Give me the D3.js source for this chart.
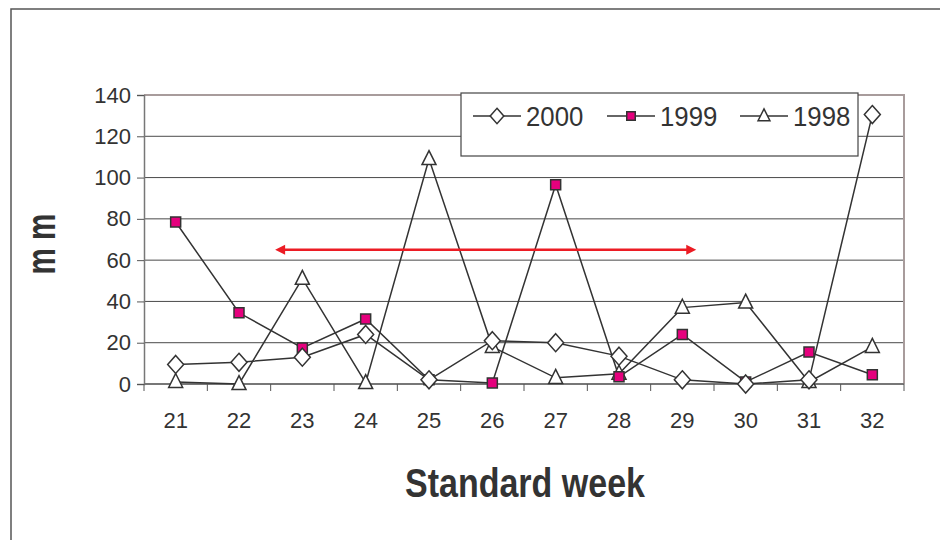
<!DOCTYPE html>
<html>
<head>
<meta charset="utf-8">
<script src="https://cdn.jsdelivr.net/npm/d3@7"></script>
<style>
  html, body { margin: 0; padding: 0; background: #fff; }
  svg { display: block; }
</style>
</head>
<body>
<svg id="chart" width="940" height="540"></svg>
<script>
// Weekly rainfall (mm) by standard week, three seasons
const weeks = [21, 22, 23, 24, 25, 26, 27, 28, 29, 30, 31, 32];
const rain2000 = [9.5, 10.5, 13, 24, 2, 21, 20, 13.5, 2, 0, 2, 130.5];
const rain1999 = [78.5, 34.5, 17.5, 31.5, 2, 0.5, 96.5, 3.5, 24, 1, 15.5, 4.5];
const rain1998 = [1, 0, 51, 0.5, 109, 18, 3, 5, 37, 39.5, 1, 18];
const yTicks = [0, 20, 40, 60, 80, 100, 120, 140];
const seriesNames = ["2000", "1999", "1998"];
// Double-headed arrow marking a span of weeks at a given rainfall level
const arrowSpan = [22.57, 29.22];
const arrowLevel = 65;

const FONT = "'Liberation Sans', Arial, sans-serif";
const TEXT_COLOR = "#333";

const svg = d3.select("#chart");
const plot = { left: 144, right: 904, top: 95, bottom: 384 };

const x = d3.scaleBand().domain(weeks).range([plot.left, plot.right]);
const xPos = d3.scaleLinear().domain([20.5, 32.5]).range([plot.left, plot.right]);
const y = d3.scaleLinear().domain([0, 140]).range([plot.bottom, plot.top]);

// outer chart frame
svg.append("path")
  .attr("d", "M11,545 L11,9 L945,9")
  .attr("fill", "none").attr("stroke", "#555").attr("stroke-width", 1.5);

// horizontal gridlines
svg.append("g").selectAll("line")
  .data(yTicks.filter(t => t > 0 && t < 140))
  .join("line")
  .attr("x1", plot.left).attr("x2", plot.right)
  .attr("y1", d => y(d)).attr("y2", d => y(d))
  .attr("stroke", "#4a4a4a").attr("stroke-width", 1);

// plot border (top and right)
svg.append("path")
  .attr("d", `M${plot.left},${y(140)} L${plot.right},${y(140)} L${plot.right},${plot.bottom}`)
  .attr("fill", "none").attr("stroke", "#a89c9c").attr("stroke-width", 2);

// y axis
const yAxis = svg.append("g")
  .attr("transform", `translate(${plot.left},0)`)
  .call(d3.axisLeft(y).tickValues(yTicks).tickSize(7).tickPadding(6));
yAxis.attr("font-family", FONT).attr("font-size", 22);
yAxis.select(".domain").attr("stroke", "#777").attr("stroke-width", 1.5);
yAxis.selectAll(".tick line").attr("stroke", "#555");
yAxis.selectAll(".tick text").attr("fill", TEXT_COLOR);

// x axis with ticks between categories
const xAxisG = svg.append("g").attr("transform", `translate(0,${plot.bottom})`);
xAxisG.append("line")
  .attr("x1", plot.left).attr("x2", plot.right)
  .attr("stroke", "#777").attr("stroke-width", 2);
xAxisG.selectAll("line.tk")
  .data(weeks.concat([33]))
  .join("line").attr("class", "tk")
  .attr("x1", d => xPos(d - 0.5)).attr("x2", d => xPos(d - 0.5))
  .attr("y1", 0).attr("y2", 7)
  .attr("stroke", "#555").attr("stroke-width", 1);
xAxisG.selectAll("text")
  .data(weeks)
  .join("text")
  .attr("x", d => x(d) + x.bandwidth() / 2)
  .attr("y", 44)
  .attr("text-anchor", "middle")
  .attr("font-family", FONT).attr("font-size", 22).attr("fill", TEXT_COLOR)
  .text(d => d);

// axis titles (condensed bold)
svg.append("g")
  .attr("transform", "translate(55,244) rotate(-90) scale(0.74,1)")
  .append("text")
  .attr("text-anchor", "middle")
  .attr("font-family", FONT).attr("font-size", 40).attr("font-weight", "bold")
  .attr("fill", TEXT_COLOR)
  .text("m m");
svg.append("g")
  .attr("transform", "translate(525,497) scale(0.85,1)")
  .append("text")
  .attr("text-anchor", "middle")
  .attr("font-family", FONT).attr("font-size", 40).attr("font-weight", "bold")
  .attr("fill", TEXT_COLOR)
  .text("Standard week");

// marker shapes
function diamondPath(cx, cy, w, h) {
  return `M${cx},${cy - h / 2} L${cx + w / 2},${cy} L${cx},${cy + h / 2} L${cx - w / 2},${cy} Z`;
}
function trianglePath(cx, cy, w, h) {
  return `M${cx},${cy - h * 0.6} L${cx + w / 2},${cy + h * 0.4} L${cx - w / 2},${cy + h * 0.4} Z`;
}
function squarePath(cx, cy, s) {
  return `M${cx - s / 2},${cy - s / 2} h${s} v${s} h${-s} Z`;
}
const markers = {
  "2000": (cx, cy, k) => diamondPath(cx, cy, 16 * k, 18 * k),
  "1999": (cx, cy, k) => squarePath(cx, cy, 10 * k),
  "1998": (cx, cy, k) => trianglePath(cx, cy, 14 * k, 14 * k)
};
const fills = { "2000": "#fff", "1999": "#e5007d", "1998": "#fff" };

const seriesData = [
  { name: seriesNames[0], values: rain2000 },
  { name: seriesNames[1], values: rain1999 },
  { name: seriesNames[2], values: rain1998 }
];

const line = d3.line()
  .x((d, i) => x(weeks[i]) + x.bandwidth() / 2)
  .y(d => y(d));

// lines first, then markers on top
const seriesG = svg.append("g");
seriesData.slice().reverse().forEach(s => {
  seriesG.append("path")
    .attr("d", line(s.values))
    .attr("fill", "none").attr("stroke", "#333").attr("stroke-width", 1.5);
});
seriesData.slice().reverse().forEach(s => {
  seriesG.append("g").selectAll("path")
    .data(s.values)
    .join("path")
    .attr("d", (d, i) => markers[s.name](x(weeks[i]) + x.bandwidth() / 2, y(d), 1))
    .attr("fill", fills[s.name])
    .attr("stroke", "#333").attr("stroke-width", 1.5);
});

// red double-headed arrow
const ay = y(arrowLevel);
const ax1 = xPos(arrowSpan[0]), ax2 = xPos(arrowSpan[1]);
svg.append("line")
  .attr("x1", ax1 + 8).attr("x2", ax2 - 8)
  .attr("y1", ay).attr("y2", ay)
  .attr("stroke", "#ec1c24").attr("stroke-width", 2.5);
svg.append("path")
  .attr("d", `M${ax1},${ay} L${ax1 + 10},${ay - 5} L${ax1 + 10},${ay + 5} Z`)
  .attr("fill", "#ec1c24");
svg.append("path")
  .attr("d", `M${ax2},${ay} L${ax2 - 10},${ay - 5} L${ax2 - 10},${ay + 5} Z`)
  .attr("fill", "#ec1c24");

// legend
const lg = svg.append("g");
lg.append("rect")
  .attr("x", 461).attr("y", 93).attr("width", 397).attr("height", 63)
  .attr("fill", "#fff").attr("stroke", "#444").attr("stroke-width", 1.2);
const legendX = [473, 607, 740];
seriesData.forEach((s, i) => {
  const lx = legendX[i], ly = 116;
  lg.append("line")
    .attr("x1", lx).attr("x2", lx + 48).attr("y1", ly).attr("y2", ly)
    .attr("stroke", "#333").attr("stroke-width", 1.5);
  lg.append("path")
    .attr("d", markers[s.name](lx + 24, ly, 0.85))
    .attr("fill", fills[s.name]).attr("stroke", "#333").attr("stroke-width", 1.5);
  lg.append("g")
    .attr("transform", `translate(${lx + 53},${ly + 10}) scale(0.92,1)`)
    .append("text")
    .attr("font-family", FONT).attr("font-size", 28).attr("fill", TEXT_COLOR)
    .text(s.name);
});
</script>
</body>
</html>
